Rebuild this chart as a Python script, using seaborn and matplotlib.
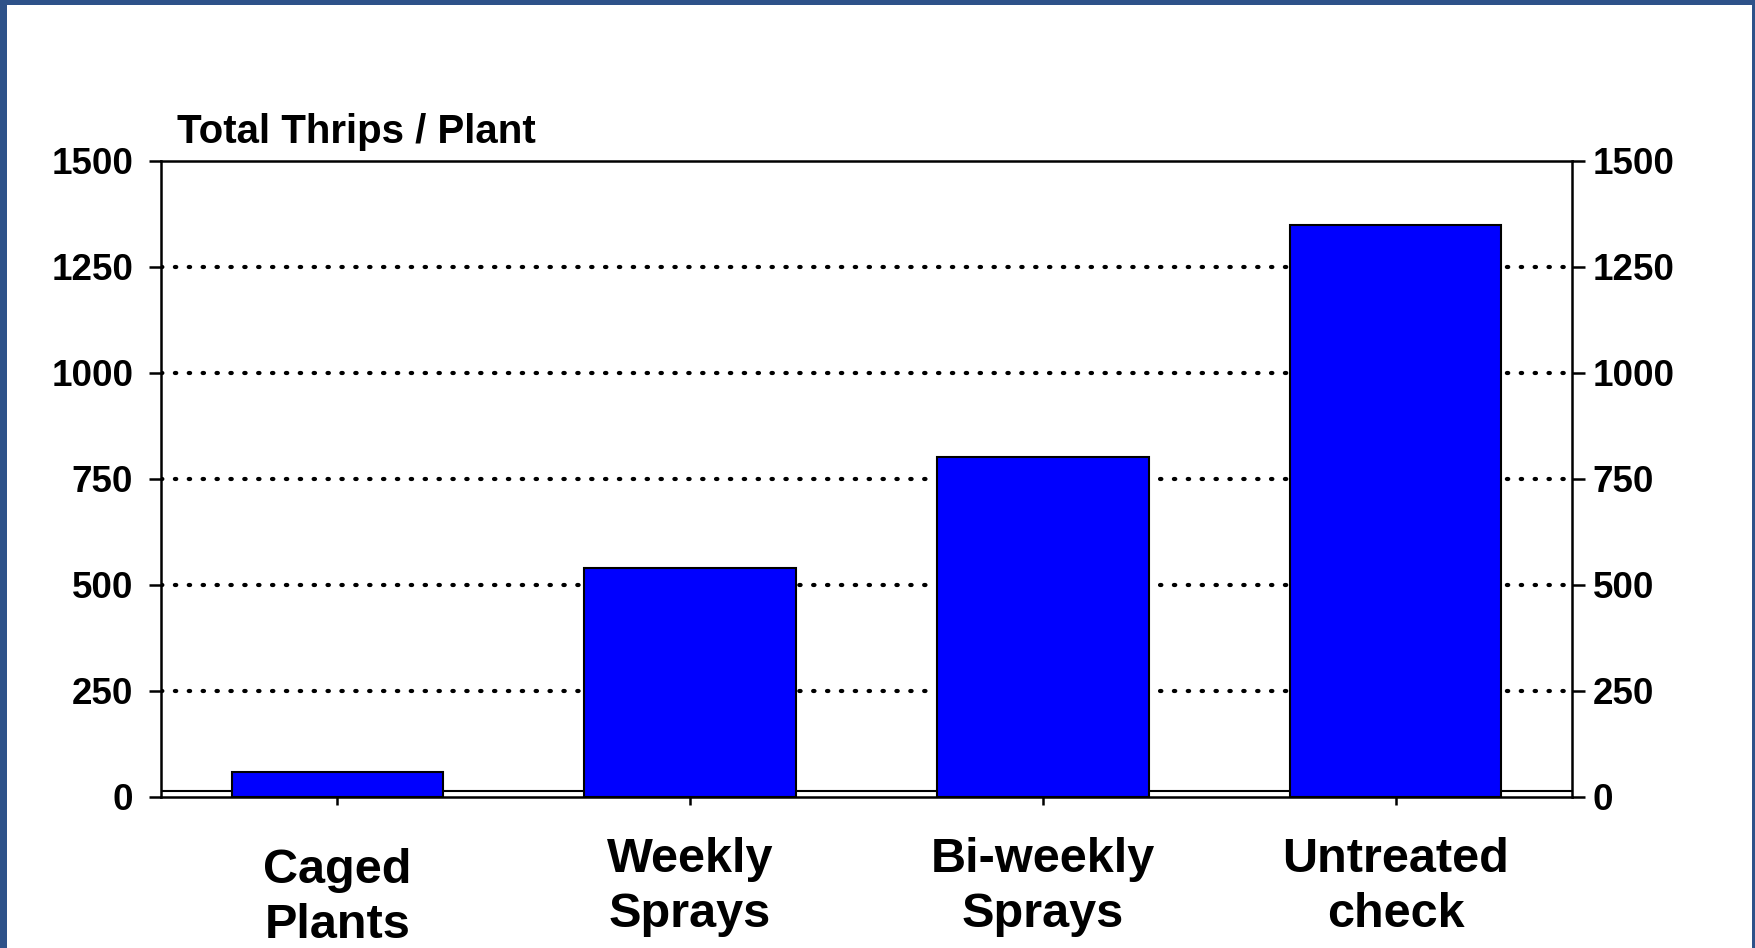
import matplotlib
matplotlib.use("Agg")
import matplotlib.pyplot as plt
import matplotlib.transforms as mtransforms
from matplotlib.patches import Rectangle
import seaborn as sns
import pandas as pd

# data
categories = ["Caged\nPlants", "Weekly\nSprays", "Bi-weekly\nSprays", "Untreated\ncheck"]
thrips = [58, 540, 801, 1350]
y_ticks = [0, 250, 500, 750, 1000, 1250, 1500]

FIG_W, FIG_H, DPI = 17.55, 9.48, 100
BAR_COLOR = "#0000FF"
FRAME_COLOR = "#2E5289"

sns.set_style("white")
plt.rcParams["font.family"] = ["Liberation Sans", "DejaVu Sans"]
plt.rcParams["font.weight"] = "bold"
plt.rcParams["text.color"] = "black"
plt.rcParams["xtick.color"] = "black"
plt.rcParams["ytick.color"] = "black"

df = pd.DataFrame({"Treatment": categories, "Thrips": thrips})

fig = plt.figure(figsize=(FIG_W, FIG_H), dpi=DPI)
fig.patch.set_facecolor(FRAME_COLOR)
# white slide area inside the blue frame
slide = Rectangle((7 / 1755, 0), (1752 - 7) / 1755, (948 - 5) / 948,
                  transform=fig.transFigure, facecolor="white",
                  edgecolor="none", zorder=-10)
fig.add_artist(slide)

ax = fig.add_axes([161 / 1755, 1 - 797 / 948, (1572 - 161) / 1755, (797 - 161) / 948])
ax.set_facecolor("none")

sns.barplot(data=df, x="Treatment", y="Thrips", color=BAR_COLOR, saturation=1,
            width=0.6, edgecolor="black", linewidth=1.5, ax=ax, zorder=3)

ax.set_ylim(0, 1500)
ax.set_xlim(-0.5, len(categories) - 0.5)
ax.set_yticks(y_ticks)
ax.set_yticklabels([str(t) for t in y_ticks])

# dotted grid lines (none at 0 or at the top)
ax.yaxis.grid(True, color="black", linestyle=(0, (0.33, 3.0)), linewidth=3.0,
              dash_capstyle="round", zorder=1)
ax.set_axisbelow(True)
gl = ax.yaxis.get_gridlines()
gl[0].set_visible(False)
gl[-1].set_visible(False)

# floor line slightly above zero
ax.axhline(15, xmin=0, xmax=1, color="black", linewidth=1.5, zorder=2)

for side in ["left", "right", "top", "bottom"]:
    ax.spines[side].set_visible(True)
    ax.spines[side].set_color("black")
    ax.spines[side].set_linewidth(1.8)

ax.tick_params(axis="y", which="both", left=True, right=True, labelleft=True,
               labelright=True, direction="out", length=9, width=1.8,
               labelsize=26.5, pad=6, colors="black")
ax.tick_params(axis="x", direction="out", length=6, width=1.8, bottom=True,
               labelsize=35, pad=22.5, colors="black")
for lbl in ax.get_yticklabels() + ax.get_xticklabels():
    lbl.set_fontweight("bold")
for lbl in ax.get_xticklabels():
    lbl.set_linespacing(1.3)

# left labels sit a little further from the axis
for tick in ax.yaxis.get_major_ticks():
    tick.label1.set_transform(tick.label1.get_transform()
                              + mtransforms.ScaledTranslation(-5 / 72, 0, fig.dpi_scale_trans))

# first category label sits a little lower in the original
offset = mtransforms.ScaledTranslation(0, -8 / 72, fig.dpi_scale_trans)
first = ax.get_xticklabels()[0]
first.set_transform(first.get_transform() + offset)

ax.set_xlabel("")
ax.set_ylabel("")

ax.text(0.0113, 1.028, "Total Thrips / Plant", transform=ax.transAxes,
        fontsize=29, fontweight="bold", ha="left", va="baseline")

fig.savefig("out.png", dpi=DPI, facecolor=fig.get_facecolor())
